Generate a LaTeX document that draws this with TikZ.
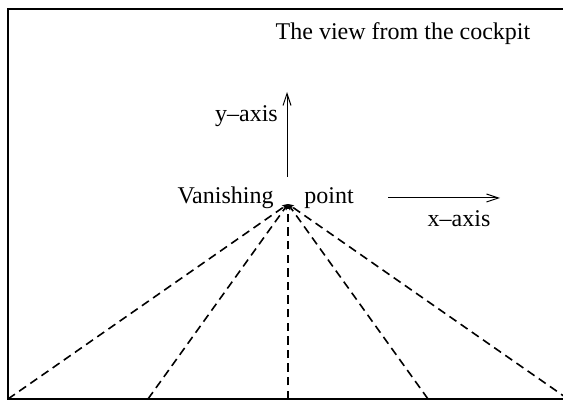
\documentclass[tikz,border=0pt]{standalone}
\usepackage{fontspec}
\setmainfont{Liberation Serif}
\usetikzlibrary{arrows.meta}
\begin{document}
\begin{tikzpicture}[x=0.5pt,y=-0.5pt,
  lbl/.style={inner sep=0pt,font=\fontsize{12}{14}\selectfont},
  axisarrow/.style={line width=0.5pt,-{Straight Barb[length=6pt,width=4pt]}},
  ray/.style={line width=0.8pt,dash pattern=on 4.2pt off 2.6pt,-{Stealth[length=3pt,width=2.5pt]}}]
\useasboundingbox (0,0) rectangle (563,400);
\draw[line width=1pt] (570,9) -- (7.5,9) -- (7.5,399) -- (570,399);
\coordinate (vp) at (288,204);
\coordinate (b1) at (8,399);
\coordinate (b2) at (148,399);
\coordinate (b3) at (288,399);
\coordinate (b4) at (428,399);
\coordinate (b5) at (568,399);
\foreach \b in {b1,b2,b3,b4,b5} \draw[ray] (\b) -- (vp);
\coordinate (ys) at (287,177);
\coordinate (ye) at (287,92);
\draw[axisarrow] (ys) -- (ye);
\coordinate (xs) at (388,198);
\coordinate (xe) at (500,198);
\draw[axisarrow] (xs) -- (xe);
\node[lbl,anchor=base] (title) at (403,40) {The view from the cockpit};
\node[lbl,anchor=base] (ylab) at (246.5,122) {y–axis};
\node[lbl,anchor=base] (van) at (225.5,204) {Vanishing};
\node[lbl,anchor=base] (pt) at (329,204) {point};
\node[lbl,anchor=base] (xlab) at (459,227) {x–axis};
\end{tikzpicture}
\end{document}
